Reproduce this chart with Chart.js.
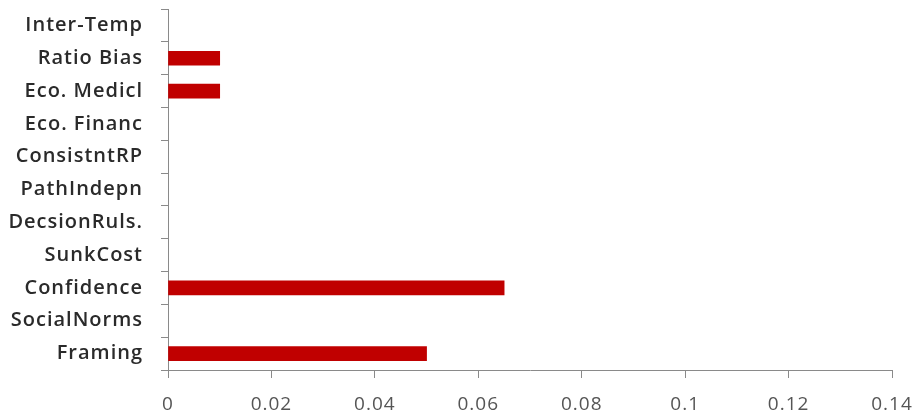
<!DOCTYPE html>
<html>
<head>
<meta charset="utf-8">
<script src="https://cdn.jsdelivr.net/npm/chart.js@4"></script>
<style>
  html, body { margin: 0; padding: 0; background: #fff; }
  #wrap { width: 919px; height: 414px; }
</style>
</head>
<body>
<div id="wrap"><canvas id="chart" width="919" height="414"></canvas></div>
<script>
const categories = ['Inter-Temp', 'Ratio Bias', 'Eco. Medicl', 'Eco. Financ', 'ConsistntRP', 'PathIndepn', 'DecsionRuls.', 'SunkCost', 'Confidence', 'SocialNorms', 'Framing'];
const values = [0, 0.01, 0.01, 0, 0, 0, 0, 0, 0.065, 0, 0.05];
const xTicks = [0, 0.02, 0.04, 0.06, 0.08, 0.1, 0.12, 0.14];

const axisColor = '#8a8a8a';

// the old picture has its text a little spread out
const spacing = { id: 'spacing', beforeDraw: c => { c.ctx.letterSpacing = '1px'; } };

new Chart(document.getElementById('chart'), {
    type: 'bar',
    data: { labels: categories, datasets: [{ data: values, backgroundColor: values.map(v => v ? '#c00000' : 'rgba(0,0,0,0)'), borderWidth: 0, barThickness: 14 }] },
    options: {
        indexAxis: 'y', responsive: false, animation: false,
        layout: { padding: { top: 9, right: 27, left: 0, bottom: 0 } },
        plugins: { legend: { display: false }, tooltip: { enabled: false } },
        scales: {
            x: {
                min: 0, max: 0.14,
                afterBuildTicks: a => { a.ticks = xTicks.map(v => ({ value: v })); },
                afterFit: a => { a.height = 44; a.paddingLeft = 0; a.paddingRight = 0; },
                border: { color: axisColor, width: 1 },
                grid: { drawOnChartArea: false, color: axisColor, tickLength: 8 },
                ticks: { color: '#555555', padding: 15, maxRotation: 0, font: { family: 'Open Sans', size: 19 }, callback: v => String(+v.toFixed(2)) }
            },
            y: {
                afterFit: a => { a.width = 168; a.paddingTop = 0; a.paddingBottom = 0; },
                border: { color: axisColor, width: 1 },
                grid: { drawOnChartArea: false, color: axisColor, tickLength: 7, offset: true },
                ticks: { color: '#2a2a2a', padding: 18, font: { family: 'Open Sans', size: 20, weight: '600' } }
            }
        }
    },
    plugins: [spacing]
});
</script>
</body>
</html>
